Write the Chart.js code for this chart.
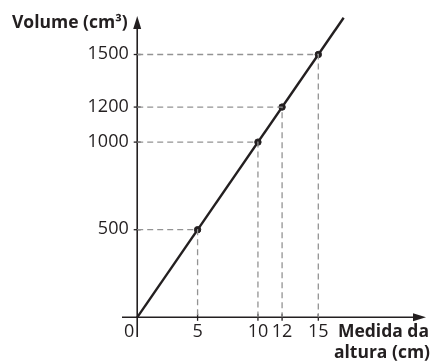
<!DOCTYPE html>
<html>
<head>
<meta charset="utf-8">
<script src="https://cdn.jsdelivr.net/npm/chart.js@4"></script>
<style>
html,body{margin:0;padding:0;background:#fff;}
#c{display:block;}
</style>
</head>
<body>
<canvas id="c" width="431" height="361"></canvas>
<script>
// ---- data ----
const heights = [5, 10, 12, 15];            // Medida da altura (cm)
const volumes = [500, 1000, 1200, 1500];    // Volume (cm³)
const lineX = [0, 17.1];                    // straight line through origin
const lineY = [0, 1710];
const xTickValues = [5, 10, 12, 15];
const xTickLabels = ['5', '10', '12', '15'];
const yTickValues = [500, 1000, 1200, 1500];
const yTickLabels = ['500', '1000', '1200', '1500'];
const originLabel = '0';
const yTitle = 'Volume (cm³)';
const xTitle = ['Medida da', 'altura (cm)'];

const INK = '#231f20';
const DASH = '#939393';

const datasets = [];
heights.forEach((h, i) => {
  datasets.push({
    type: 'line',
    data: [{x: 0, y: volumes[i]}, {x: h, y: volumes[i]}, {x: h, y: 0}],
    borderColor: DASH, borderWidth: 1.3, borderDash: [6, 4],
    pointRadius: 0, fill: false, tension: 0
  });
});
datasets.push({
  type: 'line',
  data: lineX.map((x, i) => ({x, y: lineY[i]})),
  borderColor: INK, borderWidth: 2.4, pointRadius: 0, fill: false, tension: 0
});
datasets.push({
  type: 'scatter',
  data: heights.map((h, i) => ({x: h, y: volumes[i]})),
  backgroundColor: INK, borderColor: INK, pointRadius: 3.2, showLine: false
});

const axesPlugin = {
  id: 'customAxes',
  beforeDatasetsDraw(chart) {
    const ctx = chart.ctx, xs = chart.scales.x, ys = chart.scales.y;
    const ox = xs.getPixelForValue(0), oy = ys.getPixelForValue(0);
    ctx.save();
    ctx.strokeStyle = INK; ctx.fillStyle = INK; ctx.lineWidth = 1.6;
    // x axis
    ctx.beginPath(); ctx.moveTo(xs.left, oy); ctx.lineTo(xs.right - 8, oy); ctx.stroke();
    ctx.beginPath(); ctx.moveTo(xs.right, oy); ctx.lineTo(xs.right - 13, oy - 4); ctx.lineTo(xs.right - 13, oy + 4); ctx.closePath(); ctx.fill();
    // y axis
    ctx.beginPath(); ctx.moveTo(ox, ys.bottom); ctx.lineTo(ox, ys.top + 8); ctx.stroke();
    ctx.beginPath(); ctx.moveTo(ox, ys.top); ctx.lineTo(ox - 4, ys.top + 13); ctx.lineTo(ox + 4, ys.top + 13); ctx.closePath(); ctx.fill();
    // tick marks
    ctx.lineWidth = 1.3;
    xTickValues.forEach(v => {
      const px = xs.getPixelForValue(v);
      ctx.beginPath(); ctx.moveTo(px, oy - 3.5); ctx.lineTo(px, oy + 3.5); ctx.stroke();
    });
    yTickValues.forEach(v => {
      const py = ys.getPixelForValue(v);
      ctx.beginPath(); ctx.moveTo(ox - 3.5, py); ctx.lineTo(ox + 3.5, py); ctx.stroke();
    });
    ctx.restore();
  },
  afterDraw(chart) {
    const ctx = chart.ctx, xs = chart.scales.x, ys = chart.scales.y;
    const ox = xs.getPixelForValue(0), oy = ys.getPixelForValue(0);
    ctx.save();
    ctx.fillStyle = INK;
    ctx.font = '18px "Open Sans"';
    ctx.textAlign = 'center'; ctx.textBaseline = 'alphabetic';
    xTickValues.forEach((v, i) => ctx.fillText(xTickLabels[i], xs.getPixelForValue(v), oy + 19.4));
    ctx.fillText(originLabel, ox - 8, oy + 19.4);
    ctx.textAlign = 'right'; ctx.textBaseline = 'middle';
    yTickValues.forEach((v, i) => ctx.fillText(yTickLabels[i], ox - 8.5, ys.getPixelForValue(v) - 0.5));
    ctx.font = 'bold 17.5px "Open Sans"';
    ctx.textBaseline = 'alphabetic';
    ctx.fillText(yTitle, ox - 9.5, 28.3);
    ctx.fillText(xTitle[0], 429, oy + 19.4);
    ctx.fillText(xTitle[1], 430, oy + 40.5);
    ctx.restore();
  }
};

new Chart(document.getElementById('c'), {
  type: 'scatter',
  data: {datasets},
  options: {
    responsive: false,
    animation: false,
    layout: {padding: {left: 122, right: 1, top: 16, bottom: 24}},
    plugins: {legend: {display: false}, tooltip: {enabled: false}},
    scales: {
      x: {type: 'linear', display: false, min: -1.26, max: 23.92},
      y: {type: 'linear', display: false, min: -112.4, max: 1719.8}
    }
  },
  plugins: [axesPlugin]
});
</script>
</body>
</html>
